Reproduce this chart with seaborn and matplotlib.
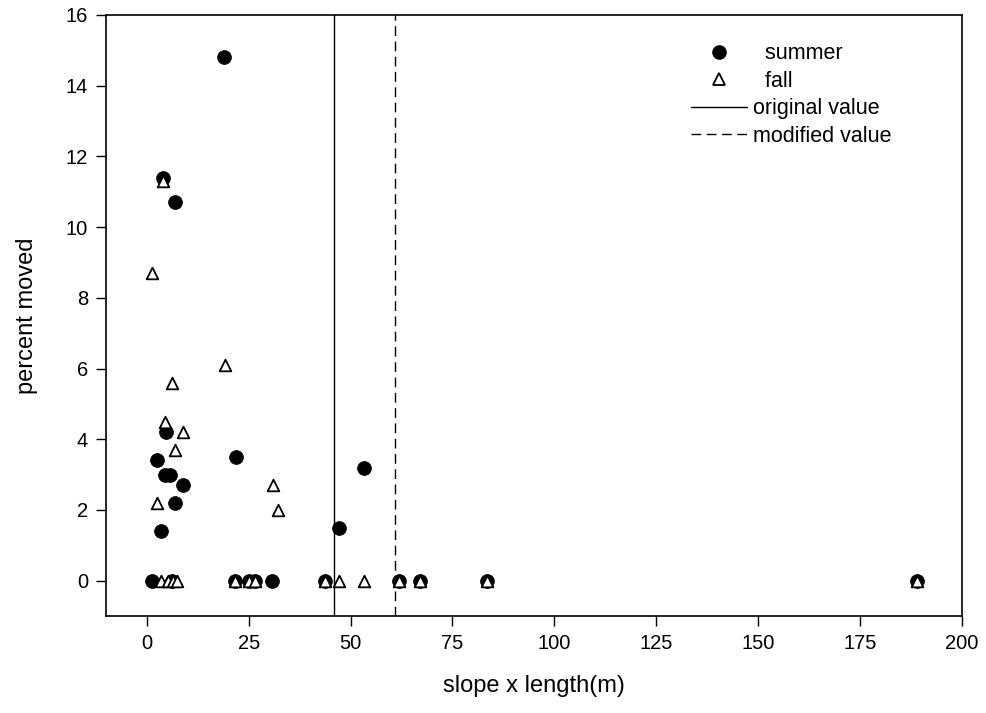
import numpy as np
import pandas as pd
import matplotlib
matplotlib.use("Agg")
import matplotlib.pyplot as plt
import seaborn as sns
from matplotlib.lines import Line2D

# Summer observations (filled circles)
summer_x = [19.0, 3.9, 7.0, 4.8, 2.5, 21.8, 4.4, 5.8, 8.8, 7.0, 3.5, 47.1, 53.3,
            1.2, 6.2, 21.7, 25.0, 26.6, 30.8, 43.7, 61.9, 67.0, 83.4, 189.0]
summer_y = [14.8, 11.4, 10.7, 4.2, 3.4, 3.5, 3.0, 3.0, 2.7, 2.2, 1.4, 1.5, 3.2,
            0, 0, 0, 0, 0, 0, 0, 0, 0, 0, 0]

# Fall observations (open triangles)
fall_x = [3.9, 1.4, 19.1, 6.3, 4.4, 8.8, 6.9, 31.0, 2.5, 32.2,
          3.6, 5.2, 6.4, 7.3, 21.7, 25.0, 26.6, 43.7, 47.2, 53.3, 61.9, 67.0, 83.4, 189.0]
fall_y = [11.3, 8.7, 6.1, 5.6, 4.5, 4.2, 3.7, 2.7, 2.2, 2.0,
          0, 0, 0, 0, 0, 0, 0, 0, 0, 0, 0, 0, 0, 0]

# Threshold values
original_value = 46.0
modified_value = 60.8

summer = pd.DataFrame({"x": summer_x, "y": summer_y})
fall = pd.DataFrame({"x": fall_x, "y": fall_y})

sns.set_theme(style="ticks")
plt.rcParams["font.family"] = ["Liberation Sans", "DejaVu Sans"]
plt.rcParams["text.color"] = "black"
plt.rcParams["axes.labelcolor"] = "black"

fig = plt.figure(figsize=(9.87, 7.13), dpi=100)
ax = fig.add_axes([0.1074, 0.136, 0.8673, 0.843])

# Reference lines
ax.axvline(original_value, color="black", lw=1.0)
ax.axvline(modified_value, color="black", lw=1.0, linestyle=(0, (7, 4)))

sns.scatterplot(data=summer, x="x", y="y", marker="o", color="black",
                edgecolor="black", s=100, linewidth=0.5, ax=ax, zorder=3)
sns.scatterplot(data=fall, x="x", y="y", marker="^", color="white",
                edgecolor="black", s=70, linewidth=1.3, ax=ax, zorder=4)

ax.set_xlim(-10, 200)
ax.set_ylim(-1, 16)
ax.set_xticks(np.arange(0, 201, 25))
ax.set_yticks(np.arange(0, 17, 2))
ax.tick_params(direction="out", length=7, width=1, labelsize=14.5,
               colors="black", pad=6)
for sp in ax.spines.values():
    sp.set_visible(True)
    sp.set_color("black")
    sp.set_linewidth(1.2)

ax.set_xlabel("slope x length(m)", fontsize=17, labelpad=16)
ax.set_ylabel("percent moved", fontsize=17, labelpad=20)

handles = [
    Line2D([], [], marker="o", color="black", linestyle="none", markersize=9.5),
    Line2D([], [], marker="^", markerfacecolor="white", markeredgecolor="black",
           markeredgewidth=1.3, linestyle="none", markersize=8),
    Line2D([], [], color="black", lw=1.0),
    Line2D([], [], color="black", lw=1.0, linestyle=(0, (7, 4))),
]
labels = ["  summer", "  fall", "original value", "modified value"]
ax.legend(handles, labels, loc="upper right", bbox_to_anchor=(0.94, 0.985),
          frameon=False, fontsize=15.5, handlelength=2.6, handletextpad=0.25,
          labelspacing=0.3)

fig.savefig("out.png", dpi=100)
